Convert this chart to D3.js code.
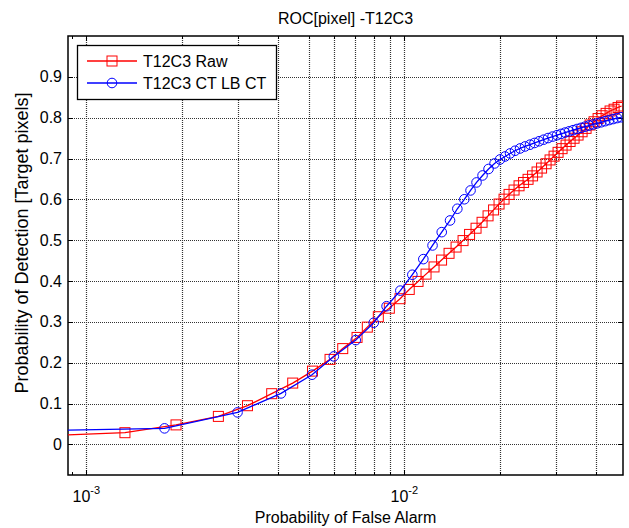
<!DOCTYPE html>
<html>
<head>
<meta charset="utf-8">
<script src="https://cdn.jsdelivr.net/npm/d3@7"></script>
<style>
  body { margin: 0; background: #fff; }
  text { font-family: Arial, "Liberation Sans", sans-serif; fill: #000; }
</style>
</head>
<body>
<script>
"use strict";

// chart values
const title = "ROC[pixel] -T12C3";
const xLabel = "Probability of False Alarm";
const yLabel = "Probability of Detection [Target pixels]";
const seriesNames = ["T12C3 Raw", "T12C3 CT LB CT"];

const pfaRaw = [0.00072, 0.001323, 0.001915, 0.002602, 0.003212, 0.003828, 0.004457, 0.005143,
  0.005840, 0.006402, 0.007101, 0.007649, 0.008283, 0.008971, 0.009694, 0.010361, 0.011042,
  0.011701, 0.012399, 0.013094, 0.013824, 0.014543, 0.015298, 0.016036, 0.016807, 0.017554,
  0.018334, 0.019078, 0.019853, 0.020585, 0.021343, 0.022130, 0.022946, 0.023706, 0.024491,
  0.025303, 0.026141, 0.027008, 0.027903, 0.028722, 0.029566, 0.030435, 0.031330, 0.032251,
  0.033199, 0.034175, 0.035180, 0.036214, 0.037277, 0.038373, 0.039501, 0.040662, 0.041857,
  0.043087, 0.044354, 0.045656, 0.046998, 0.048204];
const pdRaw = [0.021, 0.0286, 0.0477, 0.0685, 0.0947, 0.1241, 0.1501, 0.1794,
  0.2081, 0.2345, 0.2619, 0.2871, 0.3126, 0.3334, 0.3567, 0.3794, 0.3990,
  0.4169, 0.4345, 0.4513, 0.4678, 0.4832, 0.4990, 0.5141, 0.5293, 0.5438,
  0.5596, 0.5741, 0.5885, 0.6005, 0.6121, 0.6228, 0.6332, 0.6413, 0.6490,
  0.6575, 0.6670, 0.6766, 0.6872, 0.6965, 0.7058, 0.7151, 0.7241, 0.7329,
  0.7417, 0.7496, 0.7574, 0.7655, 0.7738, 0.7821, 0.7900, 0.7978, 0.8047,
  0.8105, 0.8164, 0.8207, 0.8250, 0.8286];

const pfaCT = [0.00072, 0.001762, 0.002989, 0.004095, 0.005126, 0.006002, 0.007035, 0.008012,
  0.008794, 0.009715, 0.010597, 0.011475, 0.012265, 0.013110, 0.013922, 0.014678, 0.015441,
  0.016150, 0.016866, 0.017617, 0.018398, 0.019216, 0.019996, 0.020736, 0.021500, 0.022291,
  0.023112, 0.023963, 0.024845, 0.025668, 0.026519, 0.027398, 0.028306, 0.029244, 0.030213,
  0.031104, 0.032017, 0.032957, 0.033925, 0.034921, 0.035947, 0.037003, 0.038089, 0.039208,
  0.040369, 0.041553, 0.042774, 0.044032, 0.045325, 0.046657, 0.048027];
const pdCT = [0.0335, 0.0392, 0.0783, 0.1248, 0.1706, 0.2154, 0.2553, 0.2979,
  0.3383, 0.3765, 0.4154, 0.4536, 0.4871, 0.5197, 0.5483, 0.5770, 0.6002,
  0.6218, 0.6414, 0.6585, 0.6744, 0.6879, 0.6977, 0.7050, 0.7124, 0.7190,
  0.7246, 0.7295, 0.7339, 0.7381, 0.7422, 0.7461, 0.7501, 0.7537, 0.7572,
  0.7603, 0.7635, 0.7665, 0.7694, 0.7723, 0.7750, 0.7780, 0.7807, 0.7834,
  0.7861, 0.7887, 0.7914, 0.7941, 0.7966, 0.7990, 0.8010];

const yTicks = [0, 0.1, 0.2, 0.3, 0.4, 0.5, 0.6, 0.7, 0.8, 0.9];
const xMajor = [0.001, 0.01];
const xMajorExp = ["-3", "-2"];
const xMinor = [0.0009, 0.002, 0.003, 0.004, 0.005, 0.006, 0.007, 0.008, 0.009, 0.02, 0.03, 0.04];
const xGridMinor = [0.002, 0.003, 0.004, 0.005, 0.006, 0.007, 0.008, 0.009, 0.02, 0.03, 0.04];

const W = 629, H = 528;
const pL = 68, pR = 623, pT = 36, pB = 475;

const x = d3.scaleLog().domain([0.000876, 0.0487]).range([pL, pR]);
const y = d3.scaleLinear().domain([-0.075, 1]).range([pB, pT]);

const svg = d3.select("body").append("svg")
  .attr("width", W).attr("height", H)
  .style("display", "block");

svg.append("rect").attr("width", W).attr("height", H).attr("fill", "#fff");

svg.append("defs").append("clipPath").attr("id", "plotclip")
  .append("rect")
  .attr("x", pL).attr("y", pT)
  .attr("width", pR - pL).attr("height", pB - pT);

// grid (matlab style dotted lines)
let grid = svg.append("g")
  .attr("stroke", "#333")
  .attr("stroke-width", 1.2)
  .attr("stroke-dasharray", "1,1")
  .attr("fill", "none");

grid.selectAll("line.gx")
  .data(xMajor.concat(xGridMinor))
  .enter().append("line")
  .attr("class", "gx")
  .attr("x1", d => Math.round(x(d)) + 0.5).attr("x2", d => Math.round(x(d)) + 0.5)
  .attr("y1", pT).attr("y2", pB);

grid.selectAll("line.gy")
  .data(yTicks)
  .enter().append("line")
  .attr("class", "gy")
  .attr("x1", pL).attr("x2", pR)
  .attr("y1", d => Math.round(y(d)) + 0.5).attr("y2", d => Math.round(y(d)) + 0.5);

// axes with inward ticks on all four sides
const tickLen = 5;
let axes = svg.append("g").attr("stroke", "#000").attr("stroke-width", 1);

axes.selectAll("line.ty")
  .data(yTicks)
  .enter().append("line")
  .attr("x1", pL).attr("x2", pL + tickLen)
  .attr("y1", d => Math.round(y(d)) + 0.5).attr("y2", d => Math.round(y(d)) + 0.5);
axes.selectAll("line.tyr")
  .data(yTicks)
  .enter().append("line")
  .attr("x1", pR).attr("x2", pR - tickLen)
  .attr("y1", d => Math.round(y(d)) + 0.5).attr("y2", d => Math.round(y(d)) + 0.5);

let xAll = xMajor.concat(xMinor);
axes.selectAll("line.txb")
  .data(xAll)
  .enter().append("line")
  .attr("x1", d => Math.round(x(d)) + 0.5).attr("x2", d => Math.round(x(d)) + 0.5)
  .attr("y1", pB).attr("y2", d => pB - (xMajor.includes(d) ? tickLen : 3));
axes.selectAll("line.txt")
  .data(xAll)
  .enter().append("line")
  .attr("x1", d => Math.round(x(d)) + 0.5).attr("x2", d => Math.round(x(d)) + 0.5)
  .attr("y1", pT).attr("y2", d => pT + (xMajor.includes(d) ? tickLen : 3));

svg.append("rect")
  .attr("x", pL).attr("y", pT)
  .attr("width", pR - pL).attr("height", pB - pT)
  .attr("fill", "none").attr("stroke", "#000").attr("stroke-width", 1.5);

// tick labels
svg.append("g").selectAll("text")
  .data(yTicks)
  .enter().append("text")
  .attr("x", pL - 6)
  .attr("y", d => y(d) + 5.5)
  .attr("text-anchor", "end")
  .style("font-size", "16px")
  .text(d => d === 0 ? "0" : d3.format(".1f")(d));

let xl = svg.append("g").selectAll("text")
  .data(xMajor)
  .enter().append("text")
  .attr("x", d => x(d))
  .attr("y", 501.5)
  .attr("text-anchor", "middle")
  .style("font-size", "16px");
xl.append("tspan").text("10");
xl.append("tspan").attr("dy", -8).style("font-size", "11px").text((d, i) => xMajorExp[i]);

// titles
svg.append("text")
  .attr("x", (pL + pR) / 2).attr("y", 24)
  .attr("text-anchor", "middle")
  .style("font-size", "16px")
  .text(title);

svg.append("text")
  .attr("x", (pL + pR) / 2).attr("y", 523)
  .attr("text-anchor", "middle")
  .style("font-size", "16px")
  .text(xLabel);

svg.append("text")
  .attr("transform", "translate(28, 243) rotate(-90)")
  .attr("text-anchor", "middle")
  .style("font-size", "18px")
  .text(yLabel);

// series
const series = [
  { name: seriesNames[0], pfa: pfaRaw, pd: pdRaw, color: "#ff0000", marker: "square" },
  { name: seriesNames[1], pfa: pfaCT, pd: pdCT, color: "#0000ff", marker: "circle" }
];

let line = d3.line().x(d => x(d[0])).y(d => y(d[1]));
let plot = svg.append("g").attr("clip-path", "url(#plotclip)");

series.forEach(s => {
  let pts = s.pfa.map((p, i) => [p, s.pd[i]]);
  plot.append("path")
    .datum(pts)
    .attr("d", line)
    .attr("fill", "none")
    .attr("stroke", s.color)
    .attr("stroke-width", 1.3);
  drawMarkers(plot, pts.map(d => [x(d[0]), y(d[1])]), s);
});

function drawMarkers (g, pts, s) {
  if (s.marker === "square") {
    g.selectAll(null)
      .data(pts)
      .enter().append("rect")
      .attr("x", d => d[0] - 5).attr("y", d => d[1] - 5)
      .attr("width", 10).attr("height", 10)
      .attr("fill", "none").attr("stroke", s.color).attr("stroke-width", 1);
  } else {
    g.selectAll(null)
      .data(pts)
      .enter().append("circle")
      .attr("cx", d => d[0]).attr("cy", d => d[1])
      .attr("r", 4.8)
      .attr("fill", "none").attr("stroke", s.color).attr("stroke-width", 1);
  }
}

// legend
let legend = svg.append("g");
legend.append("rect")
  .attr("x", 77.5).attr("y", 45.5)
  .attr("width", 199).attr("height", 54)
  .attr("fill", "#fff").attr("stroke", "#000").attr("stroke-width", 1.3);

series.forEach((s, i) => {
  let cy = 61 + i * 22;
  legend.append("line")
    .attr("x1", 87).attr("x2", 137)
    .attr("y1", cy).attr("y2", cy)
    .attr("stroke", s.color).attr("stroke-width", 1.3);
  drawMarkers(legend, [[112, cy]], s);
  legend.append("text")
    .attr("x", 143).attr("y", cy + 6)
    .style("font-size", "16px")
    .text(s.name);
});
</script>
</body>
</html>
